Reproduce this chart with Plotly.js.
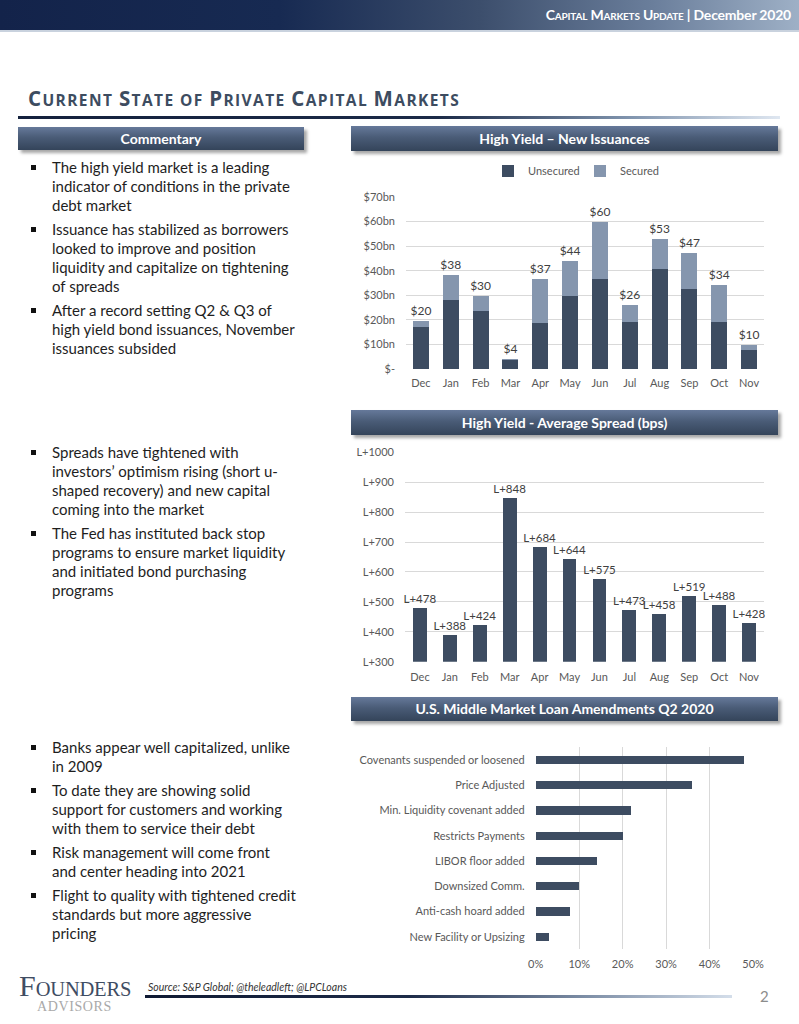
<!DOCTYPE html>
<html>
<head>
<meta charset="utf-8">
<script src="https://cdn.plot.ly/plotly-3.0.1.min.js"></script>
<style>
  html, body { margin:0; padding:0; background:#ffffff; }
  #page { position:relative; width:799px; height:1024px; overflow:hidden; background:#fff; font-family:Lato, "Open Sans", sans-serif; }
  .abs { position:absolute; }
  #hdr { left:0; top:0; width:799px; height:30px;
    background:linear-gradient(90deg,#13234a 0%,#172a52 35%,#3c4e6c 60%,#6b7f9c 82%,#9eb0c6 100%); }
  #hdrline { left:0; top:30px; width:799px; height:2px; background:#c9d2de; }
  #hdrtext { right:8px; top:6px; color:#fff; font-weight:bold; font-size:14px; white-space:nowrap; letter-spacing:-0.2px; }
  #hdrtext .sc { font-variant:small-caps; }
  #title { left:28px; top:86px; color:#3d4c60; font-family:"Open Sans", Lato, sans-serif; font-weight:bold; white-space:nowrap; letter-spacing:1.4px; line-height:24px; }
  #title .b { font-size:20.5px; }
  #title .s { font-size:15.5px; }
  #tline { left:18px; top:116px; width:762px; height:3px;
    background:linear-gradient(90deg,#14213d 0%,#1b2a47 55%,#7f93ad 80%,#dfe7f1 100%); }
  .banner { color:#fff; font-weight:bold; font-size:14px; text-align:center;
    background:linear-gradient(180deg,#66799a 0%,#4a5c77 45%,#34445a 100%);
    box-shadow:3px 3px 3px rgba(0,0,0,0.35); }
  .bul { left:52px; width:260px; font-size:15px; line-height:19px; color:#1e1e1e; white-space:nowrap; }
  .sq { width:5px; height:5px; background:#111; }
  #src { left:148px; top:981px; font-size:10.5px; font-style:italic; color:#333; white-space:nowrap; }
  #fline { left:145px; top:995px; width:587px; height:3px;
    background:linear-gradient(90deg,#0f1a33 0%,#1d2b48 45%,#7d8ea6 75%,#d4deea 100%); }
  #pnum { left:760px; top:987px; font-size:15px; color:#8c8c8c; }
  #logo1 { left:19px; top:971px; font-family:"Liberation Serif","DejaVu Serif",serif; color:#3f4d63; white-space:nowrap; line-height:30px; }
  #logo1 .big { font-size:30px; }
  #logo1 .rest { font-size:20.5px; letter-spacing:-0.2px; }
  #logo2 { left:37px; top:999px; font-family:"Liberation Serif","DejaVu Serif",serif; font-size:14px; color:#a9a9a9; letter-spacing:0.6px; white-space:nowrap; }
  #chart { position:absolute; left:0; top:0; width:799px; height:1024px; }
</style>
</head>
<body>
<div id="page">
  <div id="hdr" class="abs"></div>
  <div id="hdrline" class="abs"></div>
  <div id="hdrtext" class="abs"><span class="sc">Capital Markets Update</span> | December 2020</div>
  <div id="title" class="abs"><span class="b">C</span><span class="s">URRENT</span> <span class="b">S</span><span class="s">TATE OF</span> <span class="b">P</span><span class="s">RIVATE</span> <span class="b">C</span><span class="s">APITAL</span> <span class="b">M</span><span class="s">ARKETS</span></div>
  <div id="tline" class="abs"></div>

  <div class="abs banner" style="left:18px;top:127px;width:286px;height:23px;line-height:23px;">Commentary</div>
  <div class="abs banner" style="left:351px;top:126px;width:427px;height:25px;line-height:25px;">High Yield – New Issuances</div>
  <div class="abs banner" style="left:351px;top:410px;width:427px;height:25px;line-height:25px;">High Yield - Average Spread (bps)</div>
  <div class="abs banner" style="left:351px;top:697px;width:427px;height:24px;line-height:24px;">U.S. Middle Market Loan Amendments Q2 2020</div>

  <div id="bullets"></div>

  <div id="logo1" class="abs"><span class="big">F</span><span class="rest">OUNDERS</span></div>
  <div id="logo2" class="abs">ADVISORS</div>
  <div id="src" class="abs">Source: S&amp;P Global; @theleadleft; @LPCLoans</div>
  <div id="fline" class="abs"></div>
  <div id="pnum" class="abs">2</div>

  <div id="chart"></div>
</div>
<script>
// ---------- data ----------
var months = ["Dec","Jan","Feb","Mar","Apr","May","Jun","Jul","Aug","Sep","Oct","Nov"];
var unsecured = [17.2, 28.2, 23.7, 3.5, 18.7, 29.7, 36.6, 19.1, 40.7, 32.6, 19.1, 7.7];
var secured   = [2.2, 9.9, 6.2, 0.7, 17.9, 14.1, 23.2, 6.9, 12.1, 14.5, 15.0, 1.9];
var issuanceTotals = [20, 38, 30, 4, 37, 44, 60, 26, 53, 47, 34, 10];
var issuanceTickVals = [0, 10, 20, 30, 40, 50, 60, 70];
var issuanceTickText = ["$-", "$10bn", "$20bn", "$30bn", "$40bn", "$50bn", "$60bn", "$70bn"];

var spreads = [478, 388, 424, 848, 684, 644, 575, 473, 458, 519, 488, 428];
var spreadTickVals = [300, 400, 500, 600, 700, 800, 900, 1000];
var spreadTickText = ["L+300", "L+400", "L+500", "L+600", "L+700", "L+800", "L+900", "L+1000"];

var amendments = ["Covenants suspended or loosened", "Price Adjusted", "Min. Liquidity covenant added",
  "Restricts Payments", "LIBOR floor added", "Downsized Comm.", "Anti-cash hoard added", "New Facility or Upsizing"];
var amendmentShares = [0.48, 0.36, 0.22, 0.20, 0.14, 0.10, 0.08, 0.03];
var amendTickVals = [0, 0.1, 0.2, 0.3, 0.4, 0.5];
var amendTickText = ["0%", "10%", "20%", "30%", "40%", "50%"];

var bulletGroups = [
  {top:157.5, lines:["The high yield market is a leading","indicator of conditions in the private","debt market"]},
  {top:219.5, lines:["Issuance has stabilized as borrowers","looked to improve and position","liquidity and capitalize on tightening","of spreads"]},
  {top:300.5, lines:["After a record setting Q2 &amp; Q3 of","high yield bond issuances, November","issuances subsided"]},
  {top:442.5, lines:["Spreads have tightened with","investors’ optimism rising (short u-","shaped recovery) and new capital","coming into the market"]},
  {top:523.5, lines:["The Fed has instituted back stop","programs to ensure market liquidity","and initiated bond purchasing","programs"]},
  {top:737.5, lines:["Banks appear well capitalized, unlike","in 2009"]},
  {top:780.5, lines:["To date they are showing solid","support for customers and working","with them to service their debt"]},
  {top:842.5, lines:["Risk management will come front","and center heading into 2021"]},
  {top:885.5, lines:["Flight to quality with tightened credit","standards but more aggressive","pricing"]}
];

// ---------- bullets ----------
var bh = "";
bulletGroups.forEach(function(g){
  bh += '<div class="abs sq" style="left:31px;top:' + (g.top + 7) + 'px;"></div>';
  bh += '<div class="abs bul" style="top:' + g.top + 'px;">' + g.lines.join("<br>") + '</div>';
});
document.getElementById("bullets").innerHTML = bh;

// ---------- chart ----------
var W = 799, H = 1024;
function fx(px){ return px / W; }
function fy(py){ return 1 - py / H; }

var dark = "#3d4c61", light = "#8596ae", tickC = "#595959", gridC = "#d9d9d9";
var FF = "Lato, 'Open Sans', sans-serif";
var tfont = {family:FF, size:11, color:tickC};
var legFont = {family:FF, size:11, color:tickC};

var traces = [
  {type:"bar", name:"Unsecured", x:months, y:unsecured, marker:{color:dark},
   width:0.54, xaxis:"x", yaxis:"y", hoverinfo:"skip", legend:"legend"},
  {type:"bar", name:"Secured", x:months, y:secured, marker:{color:light},
   width:0.54, xaxis:"x", yaxis:"y", hoverinfo:"skip", legend:"legend2",
   text:issuanceTotals.map(function(v){ return "$" + v; }), textposition:"outside", cliponaxis:false,
   constraintext:"none", textfont:{family:FF, size:12, color:"#404040"}},
  {type:"bar", name:"Spread", x:months, y:spreads, marker:{color:dark}, showlegend:false,
   width:0.46, xaxis:"x2", yaxis:"y2", hoverinfo:"skip",
   text:spreads.map(function(v){ return "L+" + v; }), textposition:"outside", cliponaxis:false,
   constraintext:"none", textfont:{family:FF, size:11.5, color:"#404040"}},
  {type:"bar", orientation:"h", name:"Amendments", x:amendmentShares, y:amendments, marker:{color:dark},
   showlegend:false, width:0.32, xaxis:"x3", yaxis:"y3", hoverinfo:"skip"}
];

var layout = {
  width:W, height:H, margin:{l:0, r:0, t:0, b:0},
  paper_bgcolor:"rgba(0,0,0,0)", plot_bgcolor:"rgba(0,0,0,0)",
  barmode:"stack",
  font:{family:FF, color:tickC},
  showlegend:true,
  legend:{orientation:"h", x:fx(488), xanchor:"left", y:fy(171), yanchor:"middle",
    font:legFont, bgcolor:"rgba(0,0,0,0)", itemwidth:30},
  legend2:{orientation:"h", x:fx(580), xanchor:"left", y:fy(171), yanchor:"middle",
    font:legFont, bgcolor:"rgba(0,0,0,0)", itemwidth:30},
  xaxis:{domain:[fx(406), fx(764)], anchor:"y", type:"category", range:[-0.5, 11.5],
    showgrid:false, showline:false, zeroline:false, ticks:"", tickfont:tfont, ticklabelstandoff:6, fixedrange:true},
  yaxis:{domain:[fy(369), fy(197)], anchor:"x", range:[0, 70], tickvals:issuanceTickVals, ticktext:issuanceTickText,
    showgrid:true, gridcolor:gridC, gridwidth:1, zeroline:false, showline:false, ticks:"",
    tickfont:tfont, ticklabelstandoff:10, fixedrange:true},
  xaxis2:{domain:[fx(405), fx(764)], anchor:"y2", type:"category", range:[-0.5, 11.5],
    showgrid:false, showline:false, zeroline:false, ticks:"", tickfont:tfont, ticklabelstandoff:7, fixedrange:true},
  yaxis2:{domain:[fy(661.7), fy(452.3)], anchor:"x2", range:[300, 1000], tickvals:spreadTickVals, ticktext:spreadTickText,
    showgrid:true, gridcolor:gridC, gridwidth:1, zeroline:false, showline:false, ticks:"",
    tickfont:tfont, ticklabelstandoff:10, fixedrange:true},
  xaxis3:{domain:[fx(535.7), fx(753.5)], anchor:"y3", range:[0, 0.501], tickvals:amendTickVals, ticktext:amendTickText,
    showgrid:true, gridcolor:gridC, gridwidth:1, zeroline:false, showline:false, ticks:"",
    tickfont:tfont, ticklabelstandoff:7, fixedrange:true},
  yaxis3:{domain:[fy(949.4), fy(747.4)], anchor:"x3", type:"category", range:[7.5, -0.5],
    categoryorder:"array", categoryarray:amendments,
    showgrid:false, zeroline:false, showline:false, ticks:"", tickfont:tfont, ticklabelstandoff:10, fixedrange:true}
};

Plotly.newPlot("chart", traces, layout, {displayModeBar:false, staticPlot:true});
</script>
</body>
</html>
